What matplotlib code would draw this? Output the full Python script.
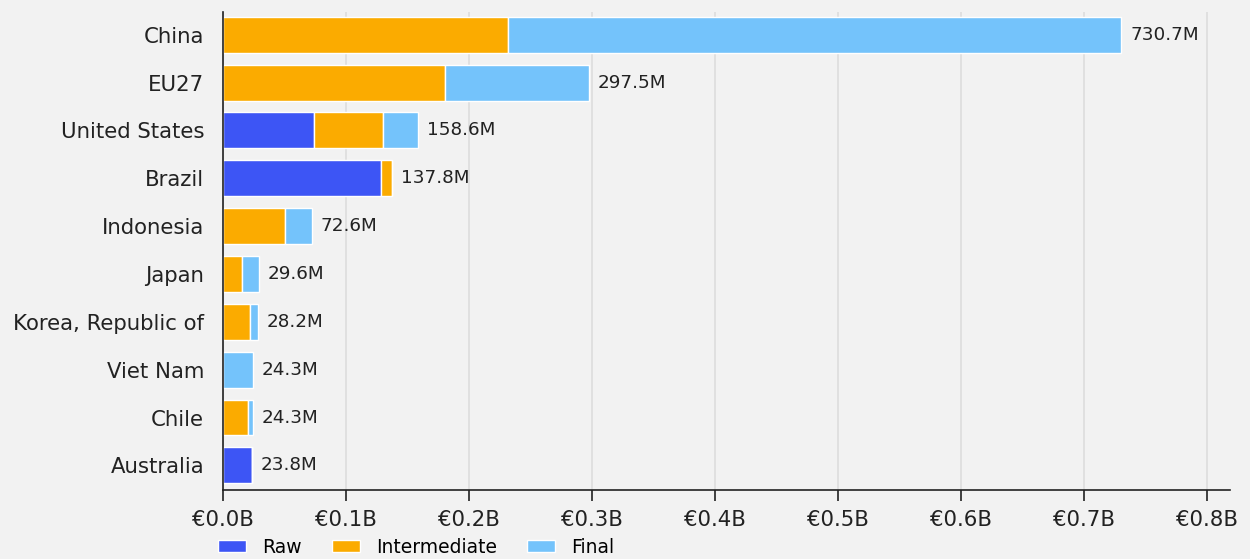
import matplotlib.pyplot as plt
import numpy as np

# values in millions of euro
countries = ["China", "EU27", "United States", "Brazil", "Indonesia", "Japan",
             "Korea, Republic of", "Viet Nam", "Chile", "Australia"]
raw = [0, 0, 74.0, 128.5, 0, 0, 0, 0, 0, 23.8]
intermediate = [231.7, 180.5, 56.0, 9.3, 50.4, 15.4, 22.0, 0, 20.1, 0]
final = [499.0, 117.0, 28.6, 0, 22.2, 14.2, 6.2, 24.3, 4.2, 0]
totals = [730.7, 297.5, 158.6, 137.8, 72.6, 29.6, 28.2, 24.3, 24.3, 23.8]
xticks = [0, 0.1, 0.2, 0.3, 0.4, 0.5, 0.6, 0.7, 0.8]

bg = "#f2f2f2"
colors = {"Raw": "#3d55f5", "Intermediate": "#fbab00", "Final": "#74c3fb"}

plt.rcParams['font.family'] = ['DejaVu Sans']
fig, ax = plt.subplots(figsize=(12.5, 5.59), dpi=100)
fig.patch.set_facecolor(bg)
ax.set_facecolor(bg)

y = np.arange(len(countries))
raw_b = np.array(raw) / 1000
int_b = np.array(intermediate) / 1000
fin_b = np.array(final) / 1000

ax.barh(y, raw_b, height=0.75, color=colors["Raw"], edgecolor="white", linewidth=1, label="Raw", zorder=3)
ax.barh(y, int_b, left=raw_b, height=0.75, color=colors["Intermediate"], edgecolor="white", linewidth=1,
        label="Intermediate", zorder=3)
ax.barh(y, fin_b, left=raw_b + int_b, height=0.75, color=colors["Final"], edgecolor="white", linewidth=1,
        label="Final", zorder=3)

for i, t in enumerate(totals):
    ax.text(t / 1000 + 0.007, i, f"{t:.1f}M", va="center", ha="left", fontsize=13.2, color="#222222")

ax.set_yticks(y)
ax.set_yticklabels(countries, fontsize=15.3, color="#222222")
ax.set_xticks(xticks)
ax.set_xticklabels([f"€{v:.1f}B" for v in xticks], fontsize=15.3, color="#222222")
ax.set_xlim(0, 0.819)
ax.set_ylim(9.52, -0.48)

ax.tick_params(axis="y", length=0, pad=13.5)
ax.tick_params(axis="x", length=8, width=1.2, color="#222222", pad=6)
ax.grid(axis="x", color="#dddddd", linewidth=1.2, zorder=0)
for s in ["top", "right"]:
    ax.spines[s].set_visible(False)
for s in ["left", "bottom"]:
    ax.spines[s].set_color("#222222")
    ax.spines[s].set_linewidth(1.2)
    ax.spines[s].set_zorder(5)

ax.legend(loc="center left", bbox_to_anchor=(-0.005, -0.119), ncol=3, frameon=False, fontsize=13.5,
          borderpad=0, borderaxespad=0, handlelength=1.5, handleheight=0.55, columnspacing=1.6,
          handletextpad=0.85)

plt.subplots_adjust(left=0.1784, right=0.984, top=0.979, bottom=0.123)
plt.savefig("out.png", facecolor=bg)
